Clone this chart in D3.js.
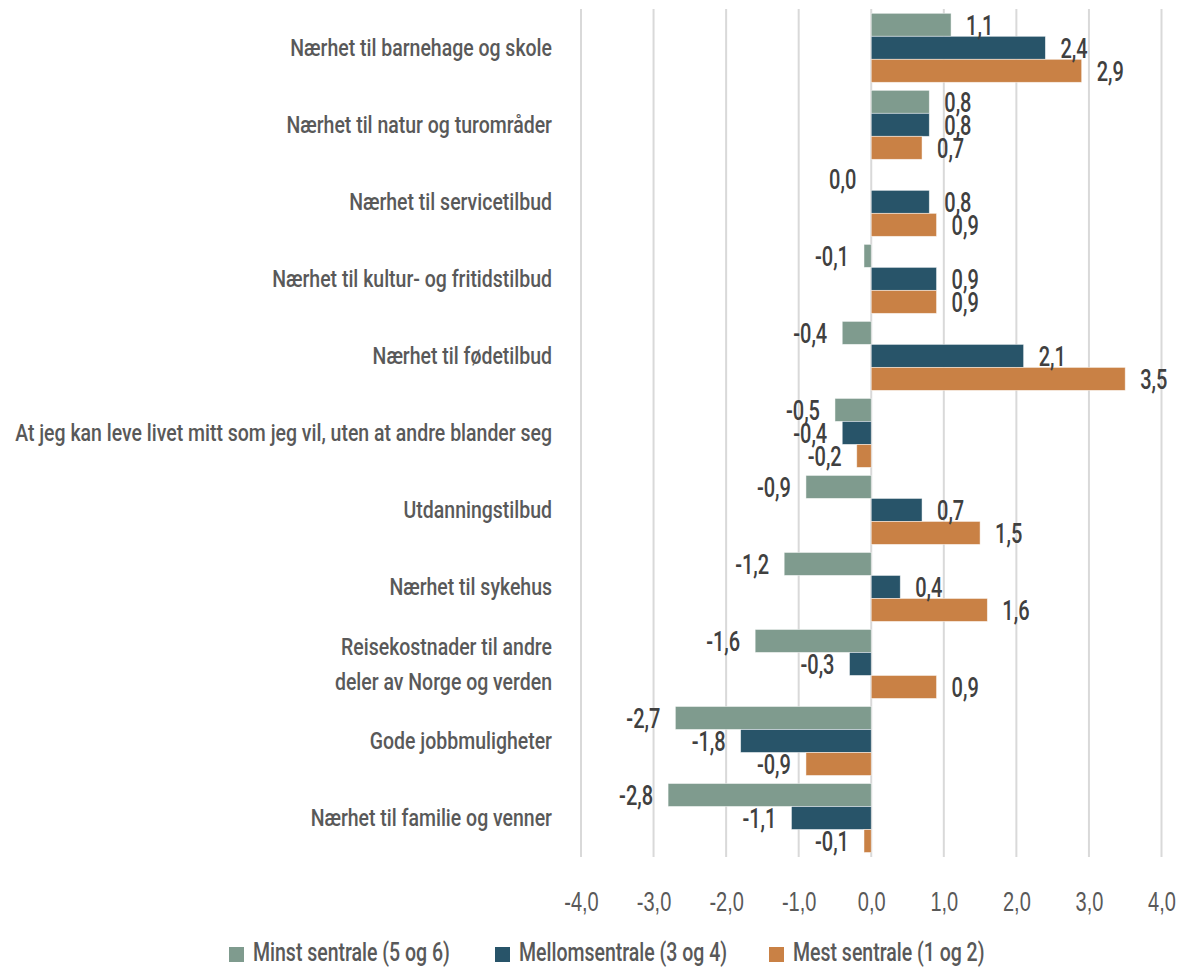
<!DOCTYPE html>
<html>
<head>
<meta charset="utf-8">
<script src="https://cdn.jsdelivr.net/npm/d3@7"></script>
<style>
  body { margin: 0; background: #fff; }
  svg { display: block; font-family: Roboto, "Liberation Sans", sans-serif; font-weight: 500; }
  .grid line { stroke: #d9d9d9; stroke-width: 2; }
  .cat { fill: #595959; font-size: 24px; }
  .val { fill: #404040; font-size: 28px; }
  .tick text { fill: #595959; font-size: 28px; }
  .legtext { fill: #595959; font-size: 25px; }
</style>
</head>
<body>
<script>
//categories (top to bottom)
var categories = [
    ["Nærhet til barnehage og skole"],
    ["Nærhet til natur og turområder"],
    ["Nærhet til servicetilbud"],
    ["Nærhet til kultur- og fritidstilbud"],
    ["Nærhet til fødetilbud"],
    ["At jeg kan leve livet mitt som jeg vil, uten at andre blander seg"],
    ["Utdanningstilbud"],
    ["Nærhet til sykehus"],
    ["Reisekostnader til andre", "deler av Norge og verden"],
    ["Gode jobbmuligheter"],
    ["Nærhet til familie og venner"]
];

//series
var seriesNames = ["Minst sentrale (5 og 6)", "Mellomsentrale (3 og 4)", "Mest sentrale (1 og 2)"];
var seriesColors = ["#7f9b8e", "#285469", "#c98145"];

var minst = [1.1, 0.8, 0.0, -0.1, -0.4, -0.5, -0.9, -1.2, -1.6, -2.7, -2.8];
var mellom = [2.4, 0.8, 0.8, 0.9, 2.1, -0.4, 0.7, 0.4, -0.3, -1.8, -1.1];
var mest = [2.9, 0.7, 0.9, 0.9, 3.5, -0.2, 1.5, 1.6, 0.9, -0.9, -0.1];
var seriesValues = [minst, mellom, mest];

//x axis ticks
var xTicks = [-4, -3, -2, -1, 0, 1, 2, 3, 4];

window.onload = drawChart();

function drawChart() {
    var width = 1184,
        height = 967;

    var svg = d3.select("body")
        .append("svg")
        .attr("width", width)
        .attr("height", height);

    var no = d3.formatLocale({ decimal: ",", thousands: " ", grouping: [3], currency: ["", ""], minus: "-" });
    var fmt = no.format(".1f");

    //the original uses a narrow font, so squeeze text horizontally
    //k is found by measuring a sample string against its width in the reference
    function squeeze(cls, sample, target) {
        var t = svg.append("text").attr("class", cls).text(sample);
        var k = target / t.node().getComputedTextLength();
        t.remove();
        return k;
    }
    function condense(sel, k) {
        sel.attr("transform", function () {
            var x = +this.getAttribute("x") || 0;
            return "translate(" + x + ",0) scale(" + k + ",1) translate(" + (-x) + ",0)";
        });
    }
    var kCat = squeeze("cat", "Nærhet til barnehage og skole At jeg kan leve livet mitt som jeg vil, uten at andre blander seg", 256 + 543 + 5),
        kNum = squeeze("val", "-4,0", 34),
        kLeg = squeeze("legtext", "Minst sentrale (5 og 6)", 197);

    var catKeys = categories.map(function (c, i) { return i; });

    var x = d3.scaleLinear()
        .domain([-4, 4])
        .range([581, 1161.5]);

    var y = d3.scaleBand()
        .domain(catKeys)
        .range([9.3, 856.5])
        .paddingInner(0.104)
        .paddingOuter(0.052);

    var ySub = d3.scaleBand()
        .domain([0, 1, 2])
        .range([0, y.bandwidth()]);

    //gridlines
    svg.append("g")
        .attr("class", "grid")
        .selectAll("line")
        .data(xTicks)
        .enter()
        .append("line")
        .attr("x1", function (d) { return x(d); })
        .attr("x2", function (d) { return x(d); })
        .attr("y1", 9)
        .attr("y2", 857);

    //build flat bar data
    var bars = [];
    seriesValues.forEach(function (vals, s) {
        vals.forEach(function (v, i) {
            bars.push({ cat: i, s: s, value: v });
        });
    });

    svg.append("g")
        .selectAll("rect")
        .data(bars)
        .enter()
        .append("rect")
        .attr("x", function (d) { return x(Math.min(0, d.value)); })
        .attr("width", function (d) { return Math.abs(x(d.value) - x(0)); })
        .attr("y", function (d) { return y(d.cat) + ySub(d.s); })
        .attr("height", ySub.bandwidth())
        .attr("fill", function (d) { return seriesColors[d.s]; })
        .attr("stroke", "#fff")
        .attr("stroke-opacity", 0.6)
        .attr("stroke-width", 0.8);

    //data labels
    var vals = svg.append("g")
        .selectAll("text")
        .data(bars)
        .enter()
        .append("text")
        .attr("class", "val")
        .attr("x", function (d) { return d.value > 0 ? x(d.value) + 15 : x(d.value) - 15; })
        .attr("y", function (d) { return y(d.cat) + ySub(d.s) + ySub.bandwidth() / 2 + 10; })
        .attr("text-anchor", function (d) { return d.value > 0 ? "start" : "end"; })
        .text(function (d) { return fmt(d.value); });
    condense(vals, kNum);

    //category labels
    var cat = svg.append("g")
        .selectAll("text")
        .data(categories)
        .enter()
        .append("text")
        .attr("class", "cat")
        .attr("text-anchor", "end")
        .attr("x", 552)
        .attr("y", function (d, i) { return y(i) + y.bandwidth() / 2 + 8.5 - (d.length - 1) * 17.5; });

    cat.selectAll("tspan")
        .data(function (d) { return d; })
        .enter()
        .append("tspan")
        .attr("x", 552)
        .attr("dy", function (d, i) { return i === 0 ? 0 : 35; })
        .text(function (d) { return d; });
    condense(cat, kCat);

    //x axis
    var xAxis = d3.axisBottom(x)
        .tickValues(xTicks)
        .tickSize(0)
        .tickPadding(0)
        .tickFormat(fmt);

    var axis = svg.append("g")
        .attr("transform", "translate(0,911)")
        .attr("font-family", null)
        .attr("font-size", null)
        .call(xAxis);
    axis.select(".domain").remove();
    axis.selectAll("text").attr("dy", null).attr("y", 0).attr("fill", null);
    condense(axis.selectAll("text"), kNum);

    //legend
    var legendX = [229, 495, 769];
    var legend = svg.append("g")
        .selectAll("g")
        .data(seriesNames)
        .enter()
        .append("g")
        .attr("transform", function (d, i) { return "translate(" + legendX[i] + ",961)"; });

    legend.append("rect")
        .attr("x", 0)
        .attr("y", -14)
        .attr("width", 15)
        .attr("height", 15)
        .attr("fill", function (d, i) { return seriesColors[i]; });

    var legText = legend.append("text")
        .attr("class", "legtext")
        .attr("x", 24)
        .text(function (d) { return d; });
    condense(legText, kLeg);
}
</script>
</body>
</html>
